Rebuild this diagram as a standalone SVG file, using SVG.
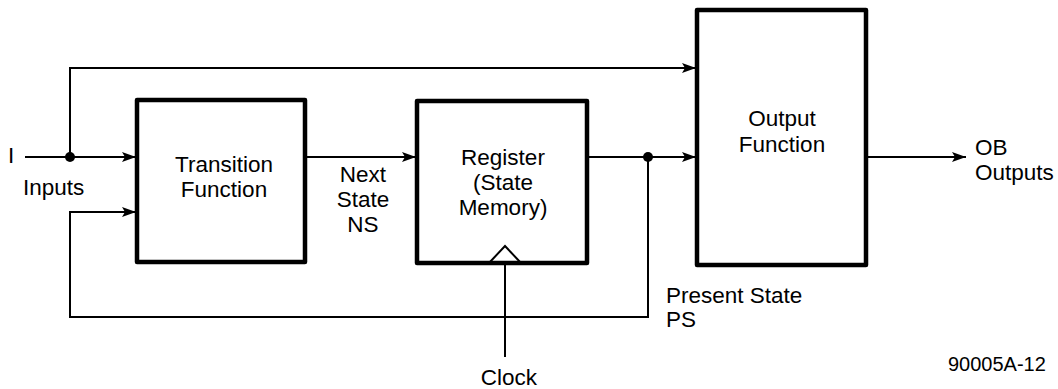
<svg xmlns="http://www.w3.org/2000/svg" width="1058" height="389" viewBox="0 0 1058 389">
<defs>
<marker id="arr" viewBox="0 0 14 10" refX="14" refY="5" markerWidth="14" markerHeight="10" markerUnits="userSpaceOnUse" orient="auto">
<path d="M0,0 L14,5 L0,10 L3,5 Z" fill="#000"/>
</marker>
</defs>
<style>
.box{fill:#fff;stroke:#000;stroke-width:4.5;stroke-linejoin:round}
.ln{fill:none;stroke:#000;stroke-width:2}
.t{font-family:"Liberation Sans",Arial,sans-serif;font-size:22.5px;fill:#000}
.c{text-anchor:middle}
</style>
<rect width="1058" height="389" fill="#fff"/>
<g id="connectors">
<line class="ln" x1="25" y1="157" x2="136" y2="157" marker-end="url(#arr)"/>
<polyline class="ln" points="70,157 70,68 696,68" marker-end="url(#arr)"/>
<polyline class="ln" points="648,157 648,317 70,317 70,212 136,212" marker-end="url(#arr)"/>
<line class="ln" x1="305" y1="157" x2="416" y2="157" marker-end="url(#arr)"/>
<line class="ln" x1="587" y1="157" x2="696" y2="157" marker-end="url(#arr)"/>
<line class="ln" x1="866" y1="157" x2="966" y2="157" marker-end="url(#arr)"/>
<line class="ln" x1="505" y1="247" x2="505" y2="357"/>
<circle cx="70" cy="157" r="5" fill="#000"/>
<circle cx="648" cy="157" r="5" fill="#000"/>
</g>
<g id="transition">
<rect class="box" x="137" y="100" width="168" height="162"/>
<text class="t c" x="224" y="172">Transition</text>
<text class="t c" x="224" y="197">Function</text>
</g>
<g id="register">
<rect class="box" x="417" y="101" width="170" height="162"/>
<polyline points="489,263 505,246 521,263" fill="none" stroke="#000" stroke-width="2"/>
<text class="t c" x="503" y="165">Register</text>
<text class="t c" x="503" y="190">(State</text>
<text class="t c" x="503" y="215">Memory)</text>
</g>
<g id="output">
<rect class="box" x="697" y="10" width="169" height="255"/>
<text class="t c" x="782" y="126">Output</text>
<text class="t c" x="782" y="152">Function</text>
</g>
<g id="labels">
<text class="t" x="8" y="163">I</text>
<text class="t" x="23" y="195">Inputs</text>
<text class="t c" x="363" y="182">Next</text>
<text class="t c" x="363" y="207">State</text>
<text class="t c" x="363" y="232">NS</text>
<text class="t" x="975" y="155">OB</text>
<text class="t" x="975" y="180">Outputs</text>
<text class="t" x="666" y="303">Present State</text>
<text class="t" x="666" y="327">PS</text>
<text class="t c" x="509" y="385">Clock</text>
<text class="t" x="948" y="371" style="font-size:20px">90005A-12</text>
</g>
</svg>
